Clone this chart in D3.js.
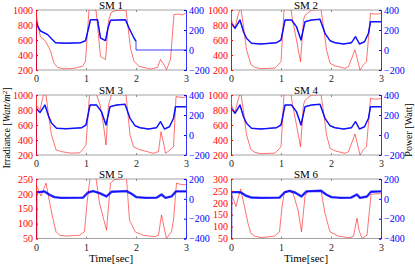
<!DOCTYPE html>
<html><head><meta charset="utf-8">
<script src="https://cdn.jsdelivr.net/npm/d3@7"></script>
<style>
html,body{margin:0;padding:0;background:#fff;}
svg{display:block;font-family:"Liberation Serif","Times New Roman",serif;}
</style></head>
<body><svg id="c" width="415" height="266"></svg>
<script>
// ---------- data ----------
const titles = ["SM 1","SM 2","SM 3","SM 4","SM 5","SM 6"];
const xTicks = [0,1,2,3];
const irrTicksA = [200,400,600,800,1000];
const irrTicksB = [50,100,150,200,250];
const irrTicksC = [50,100,150,200,250,300];
const powTicksA = [-200,0,200,400];
const powTicksB = [-400,-200,0,200];

const sm1Irr = [[0,960],[0.04,800],[0.09,640],[0.19,585],[0.29,455],[0.36,290],[0.43,235],[0.56,215],[0.76,222],[0.93,250],[0.99,315],[1.06,1005],[1.2,1000],[1.29,380],[1.39,340],[1.45,860],[1.5,965],[1.6,995],[1.8,1000],[1.89,490],[1.96,315],[2.06,250],[2.29,212],[2.43,235],[2.49,340],[2.56,270],[2.61,205],[2.69,340],[2.76,940],[2.83,945],[2.93,935],[3.0,960]];
const sm1Pow = [[0,-250],[0.005,290],[0.03,240],[0.09,190],[0.23,155],[0.33,103],[0.39,72],[0.6,68],[0.89,72],[0.99,93],[1.06,237],[1.09,303],[1.23,303],[1.29,120],[1.39,93],[1.44,220],[1.49,297],[1.79,303],[1.86,220],[1.96,120],[2.0,87],[2.0,0],[3.0,0]];

const sm2Irr = [[0,870],[0.08,760],[0.15,955],[0.18,1005],[0.2,1010],[0.25,780],[0.31,470],[0.4,270],[0.48,235],[0.6,218],[0.88,225],[0.91,245],[1.0,310],[1.06,1005],[1.2,1005],[1.23,870],[1.31,600],[1.39,310],[1.45,870],[1.48,930],[1.61,1000],[1.8,1005],[1.85,780],[1.91,470],[1.98,290],[2.08,255],[2.28,222],[2.35,245],[2.48,470],[2.58,200],[2.65,270],[2.71,310],[2.79,955],[2.85,947],[2.95,947],[3.0,955]];
const sm2Pow = [[0,-250],[0.003,267],[0.08,217],[0.18,300],[0.25,183],[0.31,117],[0.41,67],[0.6,60],[0.91,73],[1.0,100],[1.08,300],[1.21,300],[1.31,233],[1.4,100],[1.48,283],[1.61,300],[1.78,307],[1.88,167],[1.98,93],[2.08,73],[2.25,60],[2.41,73],[2.49,133],[2.57,60],[2.67,83],[2.75,167],[2.79,283],[3.0,283]];

const sm3Irr = [[0,867],[0.08,800],[0.15,1005],[0.2,1005],[0.25,733],[0.31,470],[0.4,270],[0.51,245],[0.7,225],[0.88,230],[0.95,290],[1.0,333],[1.07,1005],[1.21,1005],[1.28,870],[1.35,600],[1.4,333],[1.45,870],[1.51,1005],[1.8,1005],[1.88,470],[1.95,310],[2.08,270],[2.35,222],[2.45,245],[2.5,510],[2.56,333],[2.59,222],[2.68,267],[2.75,310],[2.8,978],[2.95,965],[3.0,978]];
const sm3Pow = [[0,-250],[0.003,267],[0.08,225],[0.18,300],[0.25,190],[0.31,120],[0.41,68],[0.6,62],[0.91,72],[1.0,100],[1.08,300],[1.21,300],[1.31,233],[1.4,100],[1.48,283],[1.61,300],[1.78,307],[1.88,167],[1.98,93],[2.08,73],[2.25,60],[2.41,73],[2.49,133],[2.57,60],[2.67,83],[2.75,167],[2.79,283],[3.0,283]];

const sm4Irr = [[0,870],[0.08,770],[0.15,960],[0.18,1005],[0.2,1010],[0.25,780],[0.31,470],[0.4,270],[0.48,235],[0.6,218],[0.88,225],[0.91,245],[1.0,310],[1.06,1005],[1.2,1005],[1.23,870],[1.31,600],[1.39,310],[1.45,870],[1.48,930],[1.61,1000],[1.8,1005],[1.85,780],[1.91,470],[1.98,290],[2.08,255],[2.28,222],[2.35,245],[2.48,480],[2.58,200],[2.65,270],[2.71,310],[2.79,955],[2.85,947],[2.95,947],[3.0,955]];
const sm4Pow = [[0,-250],[0.003,267],[0.08,217],[0.18,300],[0.25,183],[0.31,117],[0.41,67],[0.6,60],[0.91,73],[1.0,100],[1.08,300],[1.21,300],[1.31,233],[1.4,100],[1.48,283],[1.61,300],[1.78,307],[1.88,167],[1.98,93],[2.08,73],[2.25,60],[2.41,73],[2.49,133],[2.57,60],[2.67,83],[2.75,167],[2.79,283],[3.0,283]];

const sm5Irr = [[0,231],[0.1,193],[0.2,236],[0.27,174],[0.33,123],[0.4,73],[0.47,61],[0.6,58],[0.87,61],[0.97,73],[1.02,169],[1.08,252],[1.2,252],[1.27,169],[1.41,78],[1.49,236],[1.57,248],[1.81,252],[1.87,112],[1.98,73],[2.14,61],[2.38,56],[2.45,61],[2.51,129],[2.58,73],[2.61,50],[2.71,73],[2.75,112],[2.81,236],[2.91,231],[3.0,231]];
const sm5Pow = [[0,-450],[0.003,68],[0.07,68],[0.17,75],[0.27,41],[0.37,17],[0.5,10],[0.94,12],[1.04,64],[1.14,78],[1.27,58],[1.41,24],[1.51,71],[1.81,78],[1.91,51],[2.01,17],[2.2,10],[2.41,12],[2.51,44],[2.59,10],[2.71,24],[2.8,75],[3.0,75]];

const sm6Irr = [[0,241],[0.1,184],[0.19,258],[0.27,184],[0.34,114],[0.4,71],[0.47,60],[0.6,54],[0.87,60],[0.97,78],[1.02,184],[1.07,248],[1.17,248],[1.24,241],[1.34,170],[1.41,78],[1.48,227],[1.54,248],[1.8,252],[1.88,156],[1.98,78],[2.15,60],[2.38,53],[2.45,60],[2.52,135],[2.56,85],[2.62,50],[2.72,64],[2.8,234],[2.89,238],[3.0,238]];
const sm6Pow = [[0,-450],[0.003,68],[0.13,68],[0.2,64],[0.3,31],[0.4,14],[0.6,10],[0.97,12],[1.07,64],[1.17,81],[1.28,64],[1.41,24],[1.51,75],[1.8,81],[1.91,41],[2.01,17],[2.2,10],[2.4,12],[2.52,44],[2.58,10],[2.72,24],[2.8,71],[3.0,75]];

const irrSeries = [sm1Irr,sm2Irr,sm3Irr,sm4Irr,sm5Irr,sm6Irr];
const powSeries = [sm1Pow,sm2Pow,sm3Pow,sm4Pow,sm5Pow,sm6Pow];
const irrTickSets = [irrTicksA,irrTicksA,irrTicksA,irrTicksA,irrTicksB,irrTicksC];
const powTickSets = [powTicksA,powTicksA,powTicksA,powTicksA,powTicksB,powTicksB];

// ---------- layout ----------
const svg = d3.select("#c");
const RED = "#ff0000", BLUE = "#0000ff", FRAME = "#8c8c8c", TXT = "#262626";
const colX = [[36,186],[231,381]];
const rowY = [[10,70],[95,155],[179,238.5]];

titles.forEach((t,i)=>{
  const c = i%2, r = Math.floor(i/2);
  const [x0,x1] = colX[c], [y0,y1] = rowY[r];
  const irrT = irrTickSets[i], powT = powTickSets[i];
  const x = d3.scaleLinear().domain([0,3]).range([x0,x1]);
  const yL = d3.scaleLinear().domain([irrT[0], irrT[irrT.length-1]]).range([y1,y0]);
  const yR = d3.scaleLinear().domain([powT[0], powT[powT.length-1]]).range([y1,y0]);
  const g = svg.append("g");
  const cid = "clip"+i;
  g.append("clipPath").attr("id",cid).append("rect")
    .attr("x",x0).attr("y",y0).attr("width",x1-x0).attr("height",y1-y0);

  g.append("line").attr("x1",x0).attr("x2",x1).attr("y1",y0).attr("y2",y0).attr("stroke",FRAME).attr("stroke-width",0.8);
  g.append("line").attr("x1",x0).attr("x2",x1).attr("y1",y1).attr("y2",y1).attr("stroke",FRAME).attr("stroke-width",0.8);

  const xb = g.append("g").attr("transform",`translate(0,${y1})`)
    .call(d3.axisBottom(x).tickValues(xTicks).tickSize(-2).tickPadding(5).tickFormat(d3.format("d")));
  xb.select(".domain").remove();
  xb.selectAll("line").attr("stroke",FRAME);
  xb.selectAll("text").attr("fill",TXT).style("font-size","10px").style("font-family","Liberation Serif");
  const xt = g.append("g").attr("transform",`translate(0,${y0})`)
    .call(d3.axisTop(x).tickValues(xTicks).tickSize(-2).tickFormat(""));
  xt.select(".domain").remove();
  xt.selectAll("line").attr("stroke",FRAME);

  const lineL = d3.line().x(d=>x(d[0])).y(d=>yL(d[1]));
  const lineR = d3.line().x(d=>x(d[0])).y(d=>yR(d[1]));
  const dg = g.append("g").attr("clip-path",`url(#${cid})`);
  dg.append("path").datum(irrSeries[i]).attr("d",lineL).attr("fill","none")
    .attr("stroke",RED).attr("stroke-opacity",0.8).attr("stroke-width",0.7).attr("stroke-linejoin","round");
  // thin base line for the whole power series
  dg.append("path").datum(powSeries[i]).attr("d",lineR).attr("fill","none")
    .attr("stroke",BLUE).attr("stroke-opacity",0.85).attr("stroke-width",0.9);
  // thicker trace where the converter is operating (non-zero power)
  const lineRop = d3.line().defined(d=>d[1]!==0).x(d=>x(d[0])).y(d=>yR(d[1]));
  dg.append("path").datum(powSeries[i]).attr("d",lineRop).attr("fill","none")
    .attr("stroke",BLUE).attr("stroke-opacity",0.8).attr("stroke-width", i<4?1.5:2.4).attr("stroke-linejoin","round");

  const la = g.append("g").attr("transform",`translate(${x0},0)`)
    .call(d3.axisLeft(yL).tickValues(irrT).tickSize(-2).tickPadding(3).tickFormat(d3.format("d")));
  la.select(".domain").attr("stroke",RED).attr("stroke-width",0.8);
  la.selectAll("line").attr("stroke",RED);
  la.selectAll("text").attr("fill",RED).style("font-size","10px").style("font-family","Liberation Serif");
  const ra = g.append("g").attr("transform",`translate(${x1},0)`)
    .call(d3.axisRight(yR).tickValues(powT).tickSize(-2).tickPadding(3).tickFormat(d3.format("d")));
  ra.select(".domain").attr("stroke",BLUE).attr("stroke-width",0.8);
  ra.selectAll("line").attr("stroke",BLUE);
  ra.selectAll("text").attr("fill",BLUE).style("font-size","10px").style("font-family","Liberation Serif");

  g.append("text").attr("x",(x0+x1)/2).attr("y",y0-1.5).attr("text-anchor","middle")
    .attr("fill","#000").style("font-size","11px").text(t);
});

const yl = svg.append("text").attr("transform","translate(10,128) rotate(-90)").attr("text-anchor","middle")
  .attr("fill","#000").style("font-size","10px");
yl.append("tspan").text("Irradiance [");
yl.append("tspan").style("font-style","italic").text("Watt/m");
yl.append("tspan").attr("dy",-3).style("font-size","7px").text("2");
yl.append("tspan").attr("dy",3).text("]");

svg.append("text").attr("transform","translate(412,130) rotate(-90)").attr("text-anchor","middle")
  .attr("fill","#000").style("font-size","10px").text("Power [Watt]");

[[36,186],[231,381]].forEach(([a,b])=>{
  svg.append("text").attr("x",(a+b)/2).attr("y",262).attr("text-anchor","middle")
    .attr("fill","#000").style("font-size","11px").text("Time[sec]");
});
</script></body></html>
